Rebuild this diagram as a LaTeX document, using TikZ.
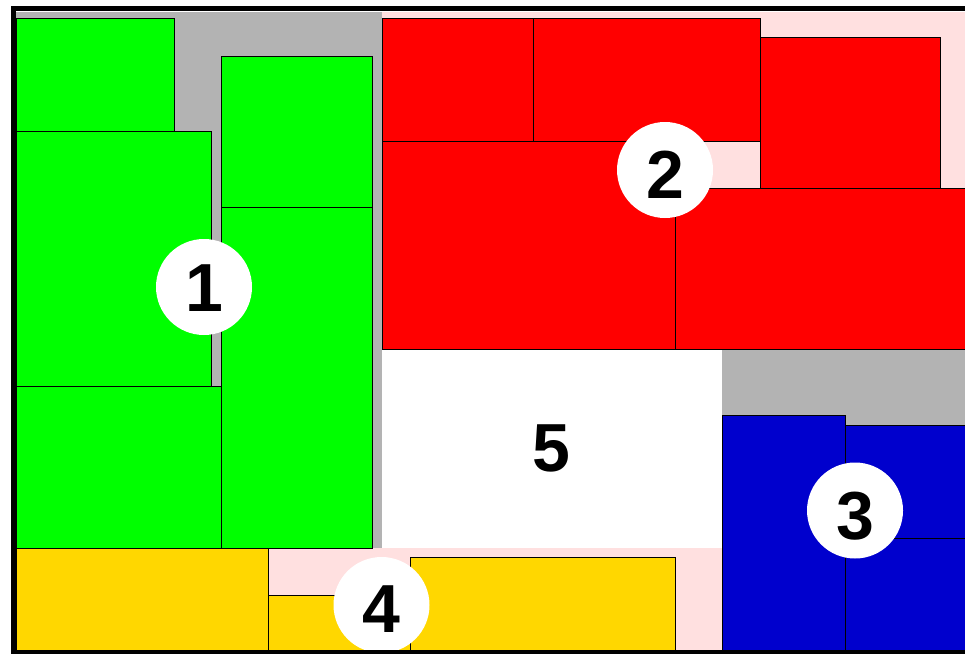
\documentclass[tikz,border=0pt]{standalone}
\usepackage{fontspec}
\setmainfont{Liberation Sans}
\definecolor{cgreen}{HTML}{00FF00}
\definecolor{cred}{HTML}{FF0000}
\definecolor{cblue}{HTML}{0000CD}
\definecolor{cyellow}{HTML}{FFD700}
\definecolor{cgrey}{HTML}{B3B3B3}
\definecolor{cpink}{HTML}{FFE0E0}
\begin{document}
\begin{tikzpicture}[x=1pt,y=-1pt,
  box/.style={draw=black, line width=0.8pt},
  disc/.style={circle, fill=white, minimum size=96pt, inner sep=0pt},
  bare/.style={inner sep=0pt, font=\fontsize{68}{68}\selectfont\bfseries}]
\useasboundingbox (0,0) rectangle (965,653);
\clip (0,0) rectangle (965,653);
\fill[white] (0,0) rectangle (965,653);
% region backgrounds
\fill[cgrey] (16,12) rectangle (382,548);
\fill[cpink] (382,12) rectangle (970,349);
\fill[cgrey] (722,349) rectangle (970,650);
\fill[cpink] (16,548) rectangle (722,650);
\fill[white] (382,349) rectangle (722,548);
% region 1 (green)
\filldraw[box, fill=cgreen] (16,18.3) rectangle (174,131.7);
\filldraw[box, fill=cgreen] (16,131.7) rectangle (211.7,386.7);
\filldraw[box, fill=cgreen] (221,56) rectangle (372.3,207.7);
\filldraw[box, fill=cgreen] (221,207.7) rectangle (372.3,548.3);
\filldraw[box, fill=cgreen] (16,386.7) rectangle (221,548.3);
% region 2 (red)
\filldraw[box, fill=cred] (382,18.3) rectangle (533,141.3);
\filldraw[box, fill=cred] (533,18.3) rectangle (760.5,141.3);
\filldraw[box, fill=cred] (382,141.3) rectangle (675,349);
\filldraw[box, fill=cred] (760.5,37.3) rectangle (940,188.3);
\filldraw[box, fill=cred] (675,188.3) rectangle (975,349);
% region 3 (blue)
\filldraw[box, fill=cblue] (722,415.7) rectangle (845.5,655);
\filldraw[box, fill=cblue] (845.5,425.3) rectangle (975,538.7);
\filldraw[box, fill=cblue] (845.5,538.7) rectangle (975,655);
% region 4 (yellow)
\filldraw[box, fill=cyellow] (16,548.3) rectangle (268.7,655);
\filldraw[box, fill=cyellow] (268.7,595.7) rectangle (410.2,655);
\filldraw[box, fill=cyellow] (410.2,557.7) rectangle (675.5,655);
% labels
\node[disc] (c1) at (204,287) {};
\node[bare] (n1) at (204,288) {1};
\node[disc] (c2) at (665,170) {};
\node[bare] (n2) at (665,174.5) {2};
\node[disc] (c3) at (855,510.5) {};
\node[bare] (n3) at (855,516) {3};
\node[disc] (c4) at (381.5,605) {};
\node[bare] (n4) at (381.5,609.5) {4};
\node[bare] (n5) at (551.5,448) {5};
% outer frame
\draw[line width=5pt] (13.5,8.5) rectangle (995,652.5);
\end{tikzpicture}
\end{document}
